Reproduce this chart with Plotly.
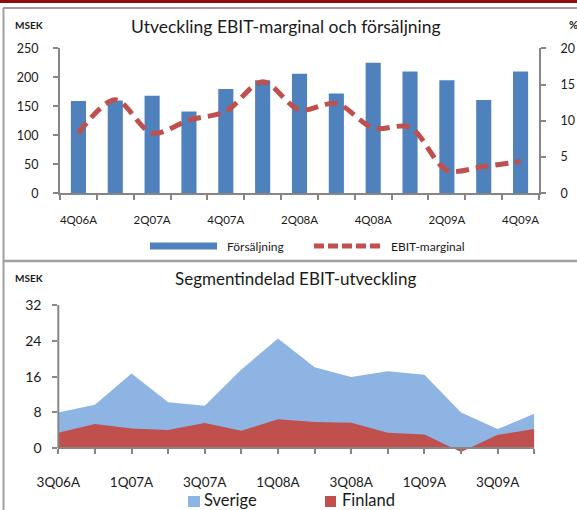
import plotly.graph_objects as go

# ---------------- data ----------------
quarters_top = ["4Q06A", "1Q07A", "2Q07A", "3Q07A", "4Q07A", "1Q08A", "2Q08A",
                "3Q08A", "4Q08A", "1Q09A", "2Q09A", "3Q09A", "4Q09A"]
forsaljning = [159, 160, 168, 141, 180, 195, 206, 172, 225, 210, 195, 161, 210]
ebit_marginal = [8.3, 12.9, 8.3, 10.1, 11.3, 15.4, 11.5, 12.4, 9.0, 9.1, 3.2, 3.7, 4.4]

quarters_bottom = ["3Q06A", "4Q06A", "1Q07A", "2Q07A", "3Q07A", "4Q07A", "1Q08A",
                   "2Q08A", "3Q08A", "4Q08A", "1Q09A", "2Q09A", "3Q09A", "4Q09A"]
sverige = [8.0, 9.7, 16.7, 10.3, 9.5, 17.6, 24.5, 18.1, 15.9, 17.2, 16.4, 8.0, 4.3, 7.7]
finland = [3.5, 5.4, 4.4, 4.1, 5.65, 3.9, 6.5, 5.9, 5.7, 3.5, 3.1, -0.8, 3.0, 4.3]

top_ticks_left = [0, 50, 100, 150, 200, 250]
top_ticks_right = [0, 5, 10, 15, 20]
bottom_ticks = [0, 8, 16, 24, 32]

# ---------------- styling ----------------
W, H = 577, 510
FONT = "Lato"
TXT = "#1a1a1a"
AX = "#868686"
BLUE = "#4F81BD"
RED = "#C0504D"
LBLUE = "#8DB4E2"


def px(x):
    return x / W


def py(y):
    return 1 - y / H


fig = go.Figure()

# top chart
fig.add_trace(go.Bar(x=quarters_top, y=forsaljning, marker=dict(color=BLUE, line=dict(width=0)),
                     xaxis="x", yaxis="y", name="Försäljning", showlegend=False))
fig.add_trace(go.Scatter(x=quarters_top, y=ebit_marginal, mode="lines",
                         line=dict(color=RED, width=5, dash="13px,7px", shape="spline", smoothing=0.9),
                         xaxis="x", yaxis="y3", name="EBIT-marginal", showlegend=False))

# bottom chart (overlapping areas, Finland in front)
fig.add_trace(go.Scatter(x=quarters_bottom, y=sverige, mode="lines", fill="tozeroy",
                         fillcolor=LBLUE, line=dict(width=0, color=LBLUE),
                         xaxis="x2", yaxis="y2", name="Sverige", showlegend=False))
fig.add_trace(go.Scatter(x=quarters_bottom, y=finland, mode="lines", fill="tozeroy",
                         fillcolor=RED, line=dict(width=0, color=RED),
                         xaxis="x2", yaxis="y2", name="Finland", showlegend=False))

# geometry
top_x0, top_x1 = 60, 539
top_y0, top_y1 = 48.3, 193.3      # pixel y for max and 0
bot_x0, bot_x1 = 58.3, 534.3
b_ymin, b_ymax = -1.3, 32
bot_top = 305.0
bot_zero = 448.3
ppu = (bot_zero - bot_top) / b_ymax
bot_bottom = bot_zero - b_ymin * ppu

top_ticktext = [q if i % 2 == 0 else "" for i, q in enumerate(quarters_top)]
bot_ticktext = [q if i % 2 == 0 else "" for i, q in enumerate(quarters_bottom)]

common = dict(automargin=False, showgrid=False, zeroline=False, fixedrange=True,
              ticks="outside", ticklen=5, tickwidth=2, tickcolor=AX)

fig.update_layout(
    template="none",
    width=W, height=H,
    margin=dict(l=0, r=0, t=0, b=0, pad=0),
    paper_bgcolor="white", plot_bgcolor="rgba(0,0,0,0)",
    bargap=0.59,
    showlegend=False,
    font=dict(family=FONT, color=TXT),
    xaxis=dict(domain=[px(top_x0), px(top_x1)], anchor="y", type="category",
               tickmode="array", tickvals=quarters_top, ticktext=top_ticktext,
               tickson="boundaries", tickangle=0,
               showline=True, linecolor=AX, linewidth=2,
               tickfont=dict(family=FONT, size=11.5, color=TXT), ticklabelstandoff=15, **common),
    yaxis=dict(domain=[py(top_y1), py(top_y0)], anchor="x", range=[0, 250],
               tickmode="array", tickvals=top_ticks_left,
               showline=True, linecolor=AX, linewidth=2,
               tickfont=dict(family=FONT, size=12.5, color=TXT), ticklabelstandoff=12, **common),
    yaxis3=dict(overlaying="y", side="right", anchor="x", range=[0, 20],
                tickmode="array", tickvals=top_ticks_right,
                showline=True, linecolor=AX, linewidth=2,
                tickfont=dict(family=FONT, size=12.5, color=TXT), ticklabelstandoff=12, **common),
    xaxis2=dict(domain=[px(bot_x0), px(bot_x1)], anchor="free",
                position=py(bot_zero), type="category", range=[0, len(quarters_bottom) - 1],
                tickmode="array", tickvals=quarters_bottom, ticktext=bot_ticktext, tickangle=0,
                showline=True, linecolor=AX, linewidth=2,
                tickfont=dict(family=FONT, size=13.5, color=TXT), ticklabelstandoff=16, **common),
    yaxis2=dict(domain=[py(bot_bottom), py(bot_top)], anchor="x2", range=[b_ymin, b_ymax],
                tickmode="array", tickvals=bottom_ticks, showline=False,
                tickfont=dict(family=FONT, size=14, color=TXT), ticklabelstandoff=8, **common),
)

shapes = []
# dark red band on top
shapes.append(dict(type="rect", xref="paper", yref="paper", x0=0, x1=1, y0=py(3), y1=1,
                   fillcolor="#8E0E0E", line=dict(width=0), layer="above"))
# panel borders
shapes.append(dict(type="line", xref="paper", yref="paper", x0=px(3), x1=1, y0=py(8), y1=py(8),
                   line=dict(color="#A0A0A0", width=2)))
shapes.append(dict(type="line", xref="paper", yref="paper", x0=px(3.5), x1=px(3.5), y0=py(8), y1=0,
                   line=dict(color="#A0A0A0", width=2)))
shapes.append(dict(type="line", xref="paper", yref="paper", x0=px(3), x1=1, y0=py(261), y1=py(261),
                   line=dict(color="#A0A0A0", width=2.5)))
# bottom chart left axis line (from 0 to top)
shapes.append(dict(type="line", xref="x2 domain", yref="y2", x0=0, x1=0, y0=0, y1=b_ymax,
                   line=dict(color=AX, width=2), layer="above"))
# top legend symbols
shapes.append(dict(type="rect", xref="paper", yref="paper", x0=px(150), x1=px(217), y0=py(249.5), y1=py(242.5),
                   fillcolor=BLUE, line=dict(width=0)))
shapes.append(dict(type="line", xref="paper", yref="paper", x0=px(314), x1=px(384), y0=py(246), y1=py(246),
                   line=dict(color=RED, width=5, dash="10px,4px")))
# bottom legend symbols
shapes.append(dict(type="rect", xref="paper", yref="paper", x0=px(188), x1=px(200), y0=py(507), y1=py(496),
                   fillcolor=LBLUE, line=dict(width=0)))
shapes.append(dict(type="rect", xref="paper", yref="paper", x0=px(325), x1=px(336), y0=py(507), y1=py(496),
                   fillcolor=RED, line=dict(width=0)))
fig.update_layout(shapes=shapes)


def note(text, x, y, size, xanchor="left", bold=False):
    t = f"<b>{text}</b>" if bold else text
    fig.add_annotation(text=t, xref="paper", yref="paper", x=px(x), y=py(y),
                       xanchor=xanchor, yanchor="middle", showarrow=False,
                       font=dict(family=FONT, size=size, color=TXT))


note("MSEK", 13, 24.5, 10, bold=True)
note("%", 567, 24.5, 11, bold=True)
note("Utveckling EBIT-marginal och försäljning", 286, 26.5, 17.5, xanchor="center")
note("Försäljning", 225, 246, 12)
note("EBIT-marginal", 389, 246, 12)

note("MSEK", 13, 278, 10, bold=True)
note("Segmentindelad EBIT-utveckling", 295, 278.5, 17, xanchor="center")
note("Sverige", 202, 500, 16.5)
note("Finland", 340, 500, 16.5)

fig.write_html(
    "out.html",
    config={"displayModeBar": False, "staticPlot": True},
    post_script="document.body.style.margin='0';document.body.style.overflow='hidden';",
)
